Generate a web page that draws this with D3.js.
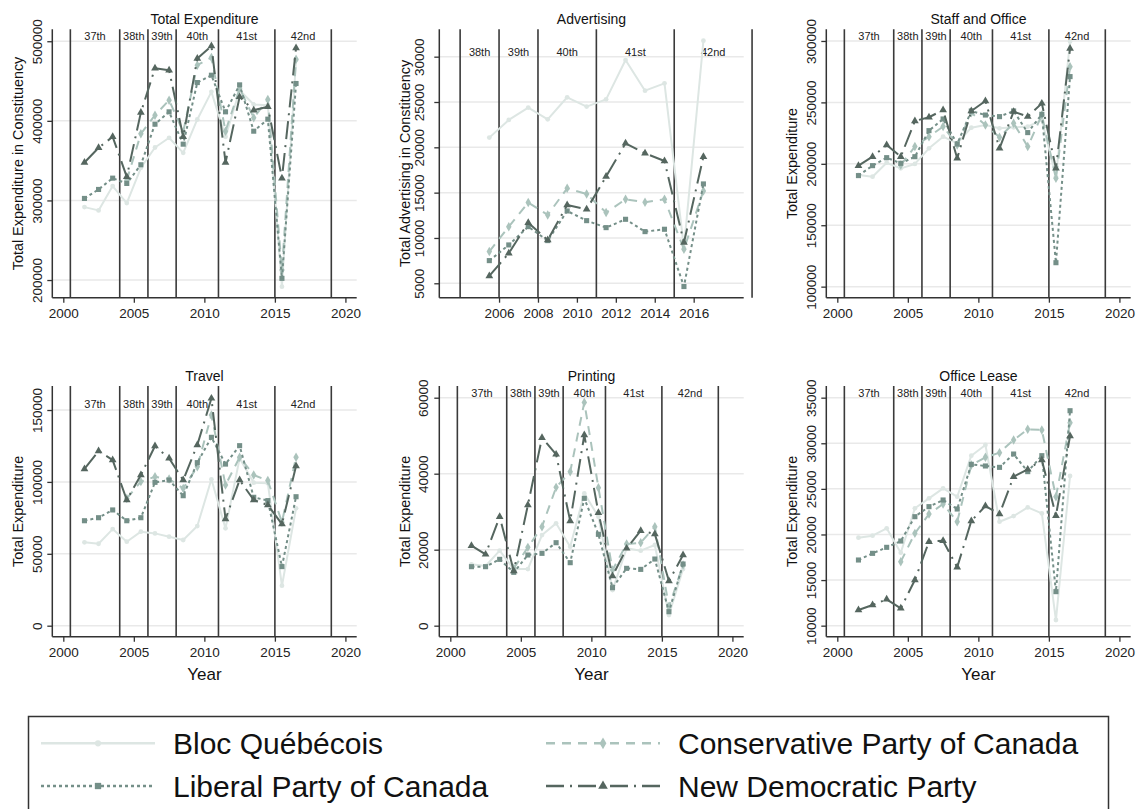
<!DOCTYPE html>
<html>
<head>
<meta charset="utf-8">
<script src="https://cdn.jsdelivr.net/npm/d3@7/dist/d3.min.js"></script>
<style>
  body { margin: 0; background: #fff; }
  svg { font-family: 'Liberation Sans', Arial, sans-serif; }
</style>
</head>
<body>
<div id="chart"></div>
<script>
const years = [2001.5, 2002.5, 2003.5, 2004.5, 2005.5, 2006.5, 2007.5, 2008.5,
  2009.5, 2010.5, 2011.5, 2012.5, 2013.5, 2014.5, 2015.5, 2016.5]

const parties = ['Bloc Québécois', 'Conservative Party of Canada', 'Liberal Party of Canada', 'New Democratic Party']

const termBreaks = [2000.5, 2004, 2006, 2008, 2011, 2015, 2019]
const termLabels = ['37th', '38th', '39th', '40th', '41st', '42nd']

const panelTitles = ['Total Expenditure', 'Advertising', 'Staff and Office', 'Travel', 'Printing', 'Office Lease']
const panelYTitles = ['Total Expenditure in Constituency', 'Total Advertising in Constituency',
  'Total Expenditure', 'Total Expenditure', 'Total Expenditure', 'Total Expenditure']

// Total Expenditure
const totalBloc = [291600, 287500, 318000, 296700, 341000, 366500, 378700, 359800, 401700, 436400, 380000, 438500, 420500, 419700, 191600, 476100]
const totalCons = [null, null, null, 325500, 383700, 407100, 426000, 386200, 469900, 479500, 387000, 440600, 403800, 426800, 212600, 477400]
const totalLib = [302500, 313800, 328000, 321300, 344800, 395800, 411300, 370700, 448100, 457300, 411300, 445200, 387000, 402100, 202100, 446900]
const totalNdp = [347700, 366100, 379900, 329700, 410500, 466100, 463600, 379900, 478200, 494100, 347700, 430100, 413400, 417600, 328000, 491600]

// Advertising
const advBloc = [null, null, null, null, 21070, 23020, 24380, 23090, 25520, 24490, 25290, 29630, 26250, 27060, 8900, 31760]
const advCons = [null, null, null, null, 8500, 11250, 13900, 12540, 15480, 14850, 12800, 14270, 13940, 14270, 8750, 15190]
const advLib = [null, null, null, null, 7500, 9230, 11250, 9710, 12980, 11910, 11140, 12060, 10700, 10960, 4640, 15960]
const advNdp = [null, null, null, null, 5810, 8310, 11690, 9780, 13640, 13160, 16770, 20440, 19340, 18490, 9490, 18970]

// Staff and Office
const staffBloc = [190900, 189500, 200900, 196300, 199900, 212600, 222100, 216700, 229400, 231600, 228900, 229700, 230300, 235700, 189500, 299500]
const staffCons = [null, null, null, 199000, 214000, 222100, 230300, 215300, 241600, 231600, 221600, 233000, 214000, 239700, 188200, 279100]
const staffLib = [190400, 198500, 205000, 200400, 205800, 227000, 236500, 216100, 243000, 239700, 238400, 243000, 225400, 240300, 119500, 271000]
const staffNdp = [198500, 205800, 215300, 205800, 234900, 237900, 243800, 204500, 243000, 251100, 212600, 242500, 238400, 249200, 196300, 293800]

// Travel
const travelBloc = [58000, 57000, 67200, 58400, 65400, 64200, 61900, 59600, 69300, 101800, 67700, 116400, 99500, 99000, 27800, 81600]
const travelCons = [null, null, null, 88500, 100200, 103600, 102000, 95500, 110600, 146500, 97800, 117100, 104800, 100900, 72000, 117100]
const travelLib = [73000, 75100, 80500, 73000, 75100, 99700, 101300, 90400, 113400, 131000, 112400, 125200, 89300, 87000, 41100, 89700]
const travelNdp = [109000, 121500, 115200, 87400, 104800, 125000, 116400, 101300, 125700, 158100, 74200, 101300, 87400, 83900, 70700, 111100]

// Printing
const printBloc = [16140, 15700, 19740, 14910, 14910, 23860, 26930, 20790, 34820, 28680, 9380, 20350, 19740, 21230, 2810, 14910]
const printCons = [null, null, null, 15100, 20610, 26050, 36400, 40500, 58770, 36320, 14650, 21490, 21840, 26050, 5000, 15960]
const printLib = [15530, 15530, 17460, 14040, 18600, 19040, 21840, 16580, 33510, 24040, 10000, 15090, 14820, 17540, 3680, 16230]
const printNdp = [21050, 18770, 28680, 14380, 31750, 49470, 45090, 27540, 50180, 29740, 13070, 20350, 25000, 24120, 11750, 18600]

// Office Lease
const leaseBloc = [19650, 19870, 20670, 18000, 22870, 23960, 25060, 24140, 28640, 29810, 21400, 22020, 22970, 22310, 10620, 26410]
const leaseCons = [null, null, null, 17020, 20120, 22240, 23340, 21400, 27620, 28460, 28970, 30360, 31530, 31460, 24140, 32260]
const leaseLib = [17200, 17930, 18590, 19280, 21950, 23050, 23780, 22790, 27690, 27510, 27360, 28820, 26890, 28640, 13730, 33570]
const leaseNdp = [11720, 12270, 12890, 11900, 15010, 19210, 19320, 16400, 21480, 23120, 22240, 26340, 27140, 28170, 22060, 30800]

const panelSeries = [
  [totalBloc, totalCons, totalLib, totalNdp],
  [advBloc, advCons, advLib, advNdp],
  [staffBloc, staffCons, staffLib, staffNdp],
  [travelBloc, travelCons, travelLib, travelNdp],
  [printBloc, printCons, printLib, printNdp],
  [leaseBloc, leaseCons, leaseLib, leaseNdp]
]

const panelYTicks = [
  [200000, 300000, 400000, 500000],
  [5000, 10000, 15000, 20000, 25000, 30000],
  [100000, 150000, 200000, 250000, 300000],
  [0, 50000, 100000, 150000],
  [0, 20000, 40000, 60000],
  [10000, 15000, 20000, 25000, 30000, 35000]
]
const panelXTicks = [
  [2000, 2005, 2010, 2015, 2020],
  [2006, 2008, 2010, 2012, 2014, 2016],
  [2000, 2005, 2010, 2015, 2020],
  [2000, 2005, 2010, 2015, 2020],
  [2000, 2005, 2010, 2015, 2020],
  [2000, 2005, 2010, 2015, 2020]
]

// scale settings (not data)
const yDomains = [[177800, 515000], [3410, 33020], [91000, 309500], [-7650, 166700], [-2900, 63080], [8790, 36280]]
const xDomains = [[1999.22, 2020.8], [2002.93, 2018.57], [1999.22, 2020.8], [1999.22, 2020.8], [1999.22, 2020.8], [1999.22, 2020.8]]
const termLabelOffset = [6.7, 22.4, 6.4, 18.3, 7.3, 7.3]
const yTickGap = [10, 15, 10, 10, 11, 10]

const styles = [
  { color: '#dde6e3', dash: null, marker: 'circle' },
  { color: '#abc3bc', dash: '9,7', marker: 'diamond' },
  { color: '#748f88', dash: '3,3', marker: 'square' },
  { color: '#55665f', dash: '18,6,2,6', marker: 'triangle' }
]

const width = 1137, height = 809
const colLeft = [52.3, 439.3, 826.3], plotWidth = 304.4
const rowTop = [29.3, 386], rowBottom = [297.7, 636.7]

const svg = d3.select('#chart')
    .append('svg')
    .attr('width', width)
    .attr('height', height)

function markerPath(type, size) {
  const sym = {
    circle: d3.symbolCircle,
    diamond: d3.symbolDiamond,
    square: d3.symbolSquare,
    triangle: d3.symbolTriangle
  }[type]
  return d3.symbol().type(sym).size(size)()
}

function drawPanel(p) {
  const col = p % 3, row = Math.floor(p / 3)
  const left = colLeft[col], right = left + plotWidth
  const top = rowTop[row], bottom = rowBottom[row]

  const x = d3.scaleLinear().domain(xDomains[p]).range([left, right])
  const y = d3.scaleLinear().domain(yDomains[p]).range([bottom, top])

  const g = svg.append('g')

  // gridlines
  g.selectAll('line.grid')
      .data(panelYTicks[p])
      .enter().append('line')
      .attr('x1', left).attr('x2', right)
      .attr('y1', d => y(d)).attr('y2', d => y(d))
      .attr('stroke', '#e9e9e9')
      .attr('stroke-width', 1.5)

  // parliament breaks
  g.selectAll('line.term')
      .data(termBreaks.filter(d => d >= xDomains[p][0]))
      .enter().append('line')
      .attr('x1', d => x(d)).attr('x2', d => x(d))
      .attr('y1', top).attr('y2', bottom)
      .attr('stroke', '#3a3a3a')
      .attr('stroke-width', 1.6)

  const labelData = termLabels.map((t, i) => ({ t, mid: (termBreaks[i] + termBreaks[i + 1]) / 2 }))
      .filter(d => d.mid >= xDomains[p][0])
  g.selectAll('text.term')
      .data(labelData)
      .enter().append('text')
      .attr('x', d => x(d.mid))
      .attr('y', top + termLabelOffset[p] + 4)
      .attr('text-anchor', 'middle')
      .attr('font-size', 11)
      .attr('fill', '#222')
      .text(d => d.t)

  // axes
  const xAxis = d3.axisBottom(x).tickValues(panelXTicks[p]).tickFormat(d3.format('d')).tickSize(5).tickSizeOuter(0)
  const yAxis = d3.axisLeft(y).tickValues(panelYTicks[p]).tickFormat(d3.format('d')).tickSize(5).tickSizeOuter(0)

  const gx = g.append('g')
      .attr('transform', 'translate(0,' + bottom + ')')
      .call(xAxis)
  gx.select('.domain').attr('stroke', '#333').attr('stroke-width', 1.5).attr('d', 'M' + left + ',0H' + right)
  gx.selectAll('.tick line').attr('stroke', '#333').attr('stroke-width', 1.3)
  gx.selectAll('.tick text')
      .attr('y', 20)
      .attr('dy', 0)
      .attr('font-size', 13.5)
      .attr('font-family', null)
      .attr('fill', '#222')

  const gy = g.append('g')
      .attr('transform', 'translate(' + left + ',0)')
      .call(yAxis)
  gy.select('.domain').attr('stroke', '#333').attr('stroke-width', 1.5).attr('d', 'M0,' + top + 'V' + bottom)
  gy.selectAll('.tick line').attr('stroke', '#333').attr('stroke-width', 1.3)
  gy.selectAll('.tick text')
      .attr('x', 0).attr('dy', 0)
      .attr('transform', 'translate(' + (-yTickGap[p]) + ',0) rotate(-90)')
      .attr('text-anchor', 'middle')
      .attr('font-size', 13.5)
      .attr('font-family', null)
      .attr('fill', '#222')

  // titles
  g.append('text')
      .attr('x', (left + right) / 2)
      .attr('y', top - 5)
      .attr('text-anchor', 'middle')
      .attr('font-size', 14)
      .attr('fill', '#111')
      .text(panelTitles[p])

  g.append('text')
      .attr('transform', 'translate(' + (left - 29) + ',' + ((top + bottom) / 2) + ') rotate(-90)')
      .attr('text-anchor', 'middle')
      .attr('font-size', 14.4)
      .attr('fill', '#111')
      .text(panelYTitles[p])

  if (row === 1) {
    g.append('text')
        .attr('x', (left + right) / 2)
        .attr('y', bottom + 43)
        .attr('text-anchor', 'middle')
        .attr('font-size', 17)
        .attr('fill', '#111')
        .text('Year')
  }

  // series
  const line = d3.line()
      .defined(d => d[1] != null)
      .x(d => x(d[0]))
      .y(d => y(d[1]))

  panelSeries[p].forEach((vals, s) => {
    const pts = years.map((yr, i) => [yr, vals[i]])
    const st = styles[s]
    g.append('path')
        .datum(pts)
        .attr('d', line)
        .attr('fill', 'none')
        .attr('stroke', st.color)
        .attr('stroke-width', 2)
        .attr('stroke-dasharray', st.dash)
        .attr('stroke-linejoin', 'round')

    g.selectAll('path.m' + s)
        .data(pts.filter(d => d[1] != null))
        .enter().append('path')
        .attr('d', markerPath(st.marker, st.marker === 'circle' ? 18 : 26))
        .attr('transform', d => 'translate(' + x(d[0]) + ',' + y(d[1]) + ')')
        .attr('fill', st.color)
  })
}

for (let p = 0; p < 6; p++) drawPanel(p)

// legend
const legend = svg.append('g')
legend.append('rect')
    .attr('x', 28.5).attr('y', 716.5)
    .attr('width', 1080).attr('height', 120)
    .attr('fill', 'none')
    .attr('stroke', '#333')
    .attr('stroke-width', 1.5)

const legendPos = [[41, 743.3], [546, 743.3], [41, 786], [546, 786]]
parties.forEach((name, s) => {
  const [lx, ly] = legendPos[s]
  const st = styles[s]
  legend.append('line')
      .attr('x1', lx).attr('x2', lx + 114)
      .attr('y1', ly).attr('y2', ly)
      .attr('stroke', st.color)
      .attr('stroke-width', 2.6)
      .attr('stroke-dasharray', st.dash)
  legend.append('path')
      .attr('d', markerPath(st.marker, st.marker === 'circle' ? 30 : 40))
      .attr('transform', 'translate(' + (lx + 57) + ',' + ly + ')')
      .attr('fill', st.color)
  legend.append('text')
      .attr('x', lx + 132)
      .attr('y', ly + 10.5)
      .attr('font-size', 30)
      .attr('fill', '#111')
      .text(name)
})
</script>
</body>
</html>
